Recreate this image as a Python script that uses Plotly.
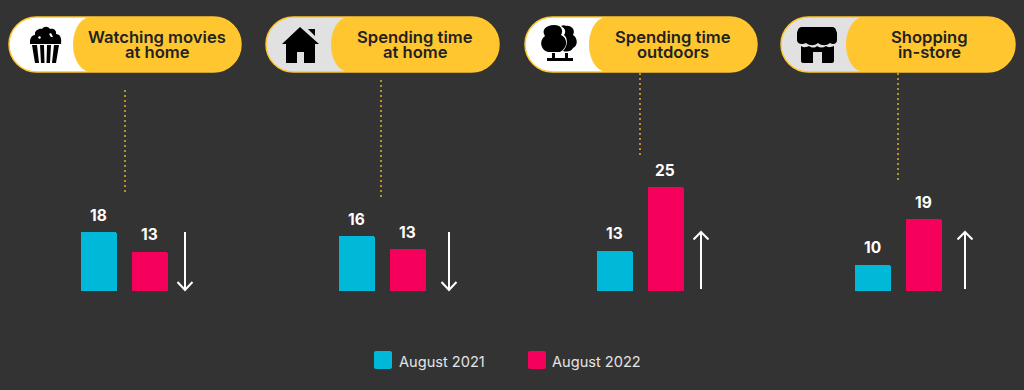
import plotly.graph_objects as go

# ---- data
series_names = ["August 2021", "August 2022"]
activities = ["Watching movies at home", "Spending time at home", "Spending time outdoors", "Shopping in-store"]
title_lines = [["Watching movies", "at home"], ["Spending time", "at home"], ["Spending time", "outdoors"], ["Shopping", "in-store"]]
values_2021 = [18, 16, 13, 10]
values_2022 = [13, 13, 25, 19]

# ---- style / layout
BG = "#333333"
YELLOW = "#FFC62F"
CYAN = "#00B9D9"
PINK = "#F5005A"
WHITE = "#FFFFFF"
GREY = "#E1E1E1"
INK = "#222222"
FONT = "Inter"
W, H = 1024, 390
BASE_Y = 291
panel_left = [72.5, 330.5, 588.5, 846.5]      # left edge of each two-bar plot
panel_width = 102
axis_floor = [2.9, 3.07, 5.4, 4.86]           # value at the bars' baseline in each panel
px_per_unit = [3.9, 4.23, 5.3, 5.06]
pill_left = [9, 266, 525, 781]
pill_right = [241, 499, 757, 1015]
pill_split = [73, 331, 589, 846]
pill_fill = [WHITE, GREY, WHITE, GREY]
title_x = [157, 415, 673, 929]
drop_x = [125, 381, 640, 898]
drop_top = [90, 80, 73, 73]
drop_bottom = [195, 198, 155, 183]
arrow_x = [185, 449, 701, 965]
arrow_dir = ["down", "down", "up", "up"]

fig = go.Figure()
shapes, annotations = [], []
O = dict(xref="x5", yref="y5")


def pill_path(l, r, t=17, b=72, lr=27.5, rr=27.5):
    m = (t + b) / 2
    k = 0.5523
    return (f"M{l + lr},{t} L{r - rr},{t} C{r - rr + k * rr},{t} {r},{m - k * (m - t)} {r},{m} "
            f"C{r},{m + k * (b - m)} {r - rr + k * rr},{b} {r - rr},{b} L{l + lr},{b} "
            f"C{l + lr - k * lr},{b} {l},{m + k * (b - m)} {l},{m} C{l},{m - k * (m - t)} {l + lr - k * lr},{t} {l + lr},{t} Z")


def icon(path, color="#000000"):
    shapes.append(dict(type="path", path=path, fillcolor=color, line=dict(width=0), layer="above", **O))


for i in range(4):
    ax = "" if i == 0 else str(i + 1)
    fig.add_trace(go.Bar(
        x=series_names, y=[values_2021[i], values_2022[i]], name=activities[i],
        marker=dict(color=[CYAN, PINK], line=dict(width=0), cornerradius=1),
        width=36 / 51, xaxis=f"x{ax}", yaxis=f"y{ax}", showlegend=False, hoverinfo="x+y"))
    fig.update_layout(**{
        f"xaxis{ax}": dict(domain=[panel_left[i] / W, (panel_left[i] + panel_width) / W], range=[-0.5, 1.5],
                           type="category", visible=False, categoryorder="array", categoryarray=series_names),
        f"yaxis{ax}": dict(domain=[(H - BASE_Y) / H, 1], range=[axis_floor[i], axis_floor[i] + BASE_Y / px_per_unit[i]],
                           visible=False),
    })
    for name, v in zip(series_names, [values_2021[i], values_2022[i]]):
        annotations.append(dict(x=name, y=v, xref=f"x{ax}", yref=f"y{ax}", text=f"<b>{v}</b>", showarrow=False,
                                yshift=17, yanchor="middle", font=dict(family=FONT, size=15.5, color=WHITE)))

    # pill
    shapes.append(dict(type="path", path=pill_path(pill_left[i], pill_right[i]), fillcolor=pill_fill[i],
                       line=dict(color=YELLOW, width=1.5), layer="below", **O))
    shapes.append(dict(type="path", path=pill_path(pill_split[i], pill_right[i], lr=18), fillcolor=YELLOW,
                       line=dict(width=0), layer="below", **O))
    for line_y, line in zip([36.5, 51.5], title_lines[i]):
        annotations.append(dict(x=title_x[i], y=line_y, xref="x5", yref="y5", text=line, showarrow=False,
                                yanchor="middle", font=dict(family=FONT, size=16.6, weight=600, color=INK)))
    # dotted drop line
    shapes.append(dict(type="line", x0=drop_x[i], x1=drop_x[i], y0=drop_top[i], y1=drop_bottom[i],
                       line=dict(color="#E3AE2A", width=1.5, dash="2px 3px"), layer="below", **O))
    # arrow
    x = arrow_x[i]
    if arrow_dir[i] == "down":
        p = f"M{x},232 L{x},290 M{x - 7.5},282 L{x},290 L{x + 7.5},282"
    else:
        p = f"M{x},289 L{x},232 M{x - 7.5},239.5 L{x},232 L{x + 7.5},239.5"
    shapes.append(dict(type="path", path=p, line=dict(color=WHITE, width=2), layer="above", **O))

# popcorn
icon("M30,42 C30,38 32,35 35,35 C34,30 40,28 42,29 C44,26 48,26 50,29 C53,28 57,30 56,34 C60,34 62,38 61,44 L30,44 Z")
icon("M32,45 L37,45 L39,63 L35,63 Z M40,45 L44,45 L44.5,63 L41,63 Z M47,45 L51,45 L50,63 L46.5,63 Z M54,45 L59,45 L56,63 L52,63 Z")
icon("M38,37 L40,36 L41,38 L39,39 Z M49,34 L51,33 L53,37 L51,37 Z", WHITE)
# house
icon("M300,27 L319,44 L315,44 L315,63 L304,63 L304,52 L297,52 L297,63 L286,63 L286,44 L282,44 Z M308,29 L315,29 L315,36 Z")
# trees
icon("M566,26 C571,25 576,30 573,35 C578,38 578,46 573,48 C571,52 566,52 563,51 C568,46 568,38 564,35 C566,32 566,29 561,26 C563,25 565,25 566,26 Z")
icon("M554,25 C561,25 564,30 561,35 C568,38 568,48 560,52 L548,52 C540,50 539,40 545,36 C541,30 546,25 554,25 Z")
icon("M552,53 L555,53 L555,58 L565,58 L565,53 L568,53 L568,58 L573,58 L573,61 L547,61 L547,58 L552,58 Z")
# store
icon("M802,27 L832,27 C835,27 836,29 837,33 L837,40 C837,44 833,45 830,43 C826,46 822,46 818,43 C814,46 810,46 806,43 C802,45 797,44 797,40 L797,33 C798,29 799,27 802,27 Z")
icon("M801,46 C804,48 807,47 809,46 C812,48 815,48 817,46 C820,48 823,48 826,46 C829,48 831,47 834,46 L834,61 C834,62 833,63 832,63 L822,63 L822,52 L813,52 L813,63 L803,63 C802,63 801,62 801,61 Z")

# legend
for x0, color, tx, name in zip([374, 528], [CYAN, PINK], [399, 552], series_names):
    shapes.append(dict(type="path", path=f"M{x0+2},351 L{x0+16},351 Q{x0+18},351 {x0+18},353 L{x0+18},367 Q{x0+18},369 {x0+16},369 L{x0+2},369 Q{x0},369 {x0},367 L{x0},353 Q{x0},351 {x0+2},351 Z",
                       fillcolor=color, line=dict(width=0), **O))
    annotations.append(dict(x=tx, y=361.5, xref="x5", yref="y5", text=name, showarrow=False, xanchor="left", xshift=-2,
                            yanchor="middle", font=dict(family=FONT, size=14.6, color="#E4E4E4")))

# empty helper trace so the pixel overlay axis exists
fig.add_trace(go.Scatter(x=[], y=[], xaxis="x5", yaxis="y5", showlegend=False))
fig.update_layout(
    xaxis5=dict(domain=[0, 1], range=[0, W], visible=False, anchor="y5"),
    yaxis5=dict(domain=[0, 1], range=[H, 0], visible=False, anchor="x5"),
    width=W, height=H, margin=dict(l=0, r=0, t=0, b=0),
    paper_bgcolor=BG, plot_bgcolor="rgba(0,0,0,0)",
    shapes=shapes, annotations=annotations, showlegend=False, bargap=0,
)
fig.write_html("out.html", config=dict(displayModeBar=False),
               post_script="document.body.style.margin='0';document.body.style.background='#333333';document.documentElement.style.overflow='hidden';")
